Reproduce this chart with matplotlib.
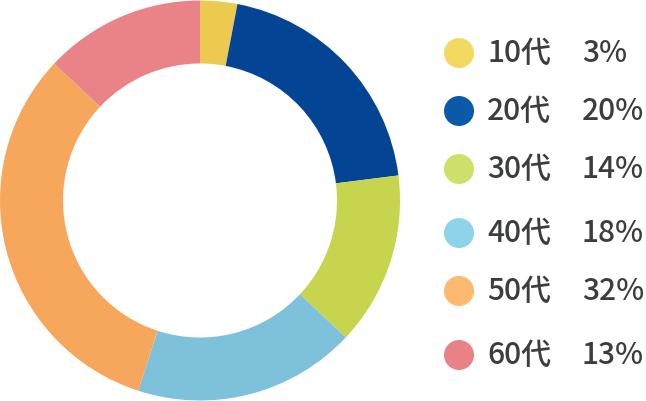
import matplotlib.pyplot as plt
from matplotlib.patches import Ellipse

plt.rcParams['font.family'] = ['Noto Sans CJK JP', 'DejaVu Sans']

labels = ['10代', '20代', '30代', '40代', '50代', '60代']
values = [3, 20, 14, 18, 32, 13]
pie_colors = ['#ecca50', '#034594', '#c6d44e', '#7dc2da', '#f7a75c', '#ea8388']
legend_colors = ['#f2d962', '#0a5aa8', '#cfe06a', '#8fd3ea', '#fdb96f', '#e98187']

W, H = 646, 401
fig = plt.figure(figsize=(W / 100, H / 100), dpi=100)

# ドーナツ
ax = fig.add_axes([0, 0.5 / H, 400 / W, 400 / H])
ax.pie(values, colors=pie_colors, startangle=90, counterclock=False,
       radius=1.0, wedgeprops=dict(width=0.315, edgecolor='none'))
ax.set_xlim(-1, 1)
ax.set_ylim(-1, 1)
ax.set_aspect('equal')
ax.axis('off')

# 凡例（ピクセル座標）
lax = fig.add_axes([0, 0, 1, 1])
lax.set_xlim(0, W)
lax.set_ylim(H, 0)
lax.axis('off')
rows = [53, 111, 169, 233, 291, 355]
for lab, v, c, y in zip(labels, values, legend_colors, rows):
    lax.add_patch(Ellipse((459, y), 30, 30, color=c, lw=0))
    lax.text(487, y, lab, fontsize=21.5, color='#3b3d3f', fontweight='medium',
             va='center', ha='left')
    lax.text(582, y, f'{v}%', fontsize=21.5, color='#3b3d3f', fontweight='medium',
             va='center', ha='left')

fig.savefig('out.png', dpi=100)
